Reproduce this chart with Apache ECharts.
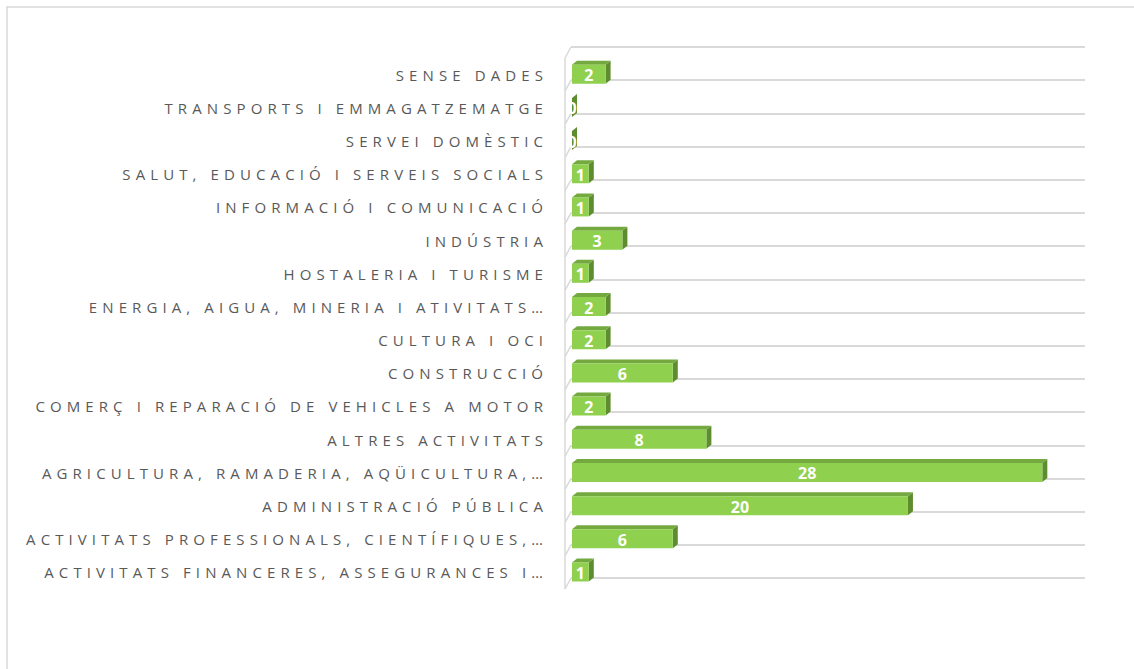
<!DOCTYPE html>
<html>
<head>
<meta charset="utf-8">
<script src="https://cdn.jsdelivr.net/npm/echarts@6/dist/echarts.min.js"></script>
<style>
  html, body { margin: 0; padding: 0; background: #fff; }
  #chart { width: 1134px; height: 669px; }
  /* letter-spaced category labels, as in the original */
  #chart text[fill="#595959"] { letter-spacing: 5.1px; }
</style>
</head>
<body>
<div id="chart"></div>
<script>
// bottom to top, as the category axis draws them
var categories = [
  'ACTIVITATS FINANCERES, ASSEGURANCES I…',
  'ACTIVITATS PROFESSIONALS, CIENTÍFIQUES,…',
  'ADMINISTRACIÓ PÚBLICA',
  'AGRICULTURA, RAMADERIA, AQÜICULTURA,…',
  'ALTRES ACTIVITATS',
  'COMERÇ I REPARACIÓ DE VEHICLES A MOTOR',
  'CONSTRUCCIÓ',
  'CULTURA I OCI',
  'ENERGIA, AIGUA, MINERIA I ATIVITATS…',
  'HOSTALERIA I TURISME',
  'INDÚSTRIA',
  'INFORMACIÓ I COMUNICACIÓ',
  'SALUT, EDUCACIÓ I SERVEIS SOCIALS',
  'SERVEI DOMÈSTIC',
  'TRANSPORTS I EMMAGATZEMATGE',
  'SENSE DADES'
];
var values = [1, 6, 20, 28, 8, 2, 6, 2, 2, 1, 3, 1, 1, 0, 0, 2];

var gridLeft = 571;
var chart = echarts.init(document.getElementById('chart'), null, { renderer: 'svg' });

// excel-like 3d bar: front face, top face, right side
function renderBar(params, api) {
  var v = api.value(0), c = api.value(1);
  var p0 = api.coord([0, c]);
  var p1 = api.coord([v, c]);
  var band = api.size([0, 1])[1];
  var bottom = p0[1] + band / 2 + 3.5;
  var h = 19, dx = 5, dy = 4;
  var top = bottom - h;
  var x0 = p0[0] + 1, x1 = p1[0] + 1;
  var lineStyle = { stroke: '#d9d9d9', lineWidth: 1.5 };
  var kids = [
    { type: 'line', shape: { x1: gridLeft, y1: p0[1] + band / 2, x2: gridLeft - 6, y2: p0[1] + band / 2 + 11 }, style: lineStyle },
    { type: 'line', shape: { x1: gridLeft - 6, y1: p0[1] - band / 2 + 11, x2: gridLeft - 6, y2: p0[1] + band / 2 + 11 }, style: lineStyle }
  ];
  if (c === categories.length - 1) {
    kids.push({ type: 'line', shape: { x1: gridLeft, y1: p0[1] - band / 2, x2: gridLeft - 6, y2: p0[1] - band / 2 + 11 }, style: lineStyle });
  }
  kids.push(
    { type: 'polygon', shape: { points: [[x1, top], [x1 + dx, top - dy], [x1 + dx, bottom - dy], [x1, bottom]] }, style: { fill: '#5e8d2f' } },
    { type: 'polygon', shape: { points: [[x0, top], [x0 + dx, top - dy], [x1 + dx, top - dy], [x1, top]] }, style: { fill: '#73a93e' } },
    { type: 'rect', shape: { x: x0, y: top, width: x1 - x0, height: h }, style: { fill: '#8fd14f' } },
    { type: 'text', x: (x0 + x1) / 2, y: top + h / 2 + 1,
      style: { text: String(v), fill: '#ffffff', font: 'bold 16px "Open Sans", sans-serif', align: 'center', verticalAlign: 'middle' } }
  );
  return { type: 'group', children: kids };
}

chart.setOption({
  animation: false,
  backgroundColor: '#fff',
  graphic: [{
    type: 'rect', shape: { x: 7, y: 7, width: 1140, height: 700 },
    style: { fill: 'none', stroke: '#d9d9d9', lineWidth: 1.5 }, silent: true
  }],
  grid: { left: gridLeft, right: 49, top: 47, bottom: 91 },
  xAxis: {
    type: 'value', min: 0, max: 30.6, show: false, splitLine: { show: false }
  },
  yAxis: {
    type: 'category',
    data: categories,
    axisLine: { show: false },
    axisTick: { show: false },
    splitLine: { show: true, lineStyle: { color: '#d9d9d9', width: 2 } },
    axisLabel: {
      color: '#595959',
      fontFamily: 'Open Sans',
      fontSize: 15,
      margin: 23,
      lineHeight: 22,
      verticalAlign: 'top'
    }
  },
  series: [{
    type: 'custom',
    renderItem: renderBar,
    encode: { x: 0, y: 1 },
    data: values.map(function (v, i) { return [v, i]; })
  }]
});
</script>
</body>
</html>
